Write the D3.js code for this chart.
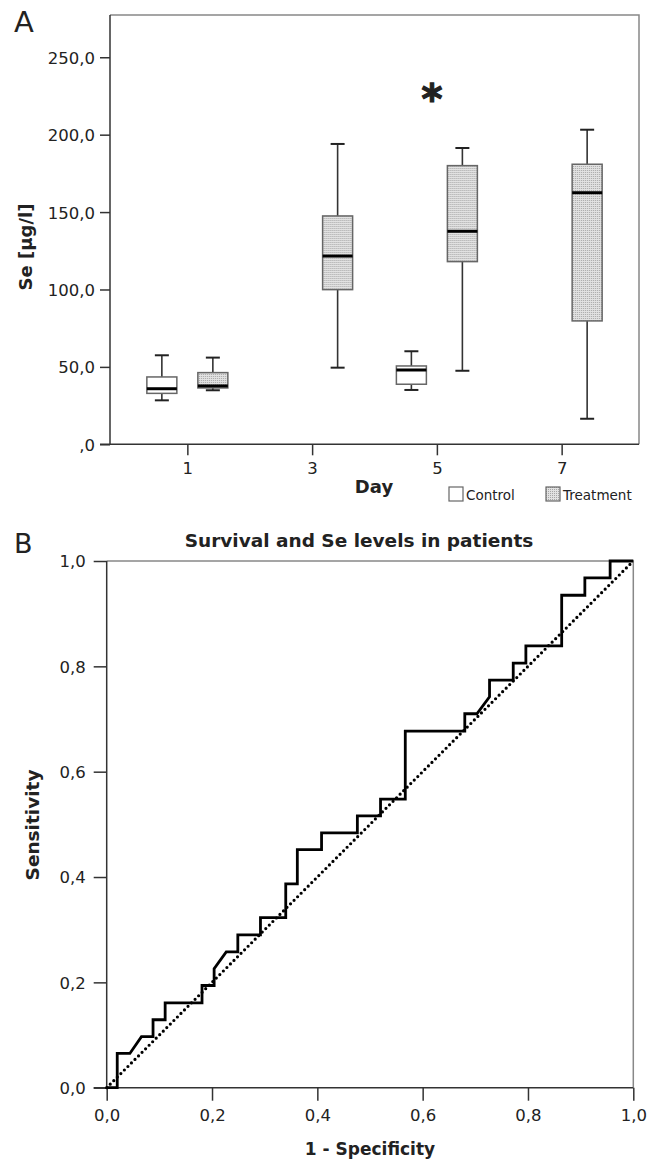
<!DOCTYPE html>
<html>
<head>
<meta charset="utf-8">
<script src="https://cdn.jsdelivr.net/npm/d3@7"></script>
<style>
  body { margin: 0; background: #fff; }
  svg text { font-family: "DejaVu Sans", sans-serif; fill: #222; }
</style>
</head>
<body>
<div id="chart"></div>
<script>
// Panel A data: box plot stats [min, q1, median, q3, max] per day
const days = ['1', '3', '5', '7'];
const groups = ['Control', 'Treatment'];
const controlStats = [
    [28.4, 32.9, 35.9, 43.5, 57.5],
    null,
    [35.1, 38.8, 48.0, 50.6, 60.1],
    null
];
const treatmentStats = [
    [34.9, 36.4, 37.7, 46.3, 56.0],
    [49.5, 99.9, 121.6, 147.5, 194.0],
    [47.5, 118.0, 137.6, 180.0, 191.4],
    [16.5, 79.7, 162.5, 180.9, 203.2]
];
const seTicks = [0, 50, 100, 150, 200, 250];

// Panel B data: ROC curve points
const rocFpr = [0, 0.020, 0.020, 0.044, 0.066, 0.088, 0.088, 0.111, 0.111, 0.181, 0.181, 0.204, 0.204, 0.227, 0.249,
    0.249, 0.292, 0.292, 0.340, 0.340, 0.362, 0.362, 0.408, 0.408, 0.476, 0.476, 0.520, 0.520, 0.567, 0.567,
    0.680, 0.680, 0.703, 0.727, 0.727, 0.772, 0.772, 0.796, 0.796, 0.864, 0.864, 0.908, 0.908, 0.956, 0.956, 1.0];
const rocTpr = [0, 0, 0.065, 0.065, 0.097, 0.097, 0.129, 0.129, 0.161, 0.161, 0.194, 0.194, 0.226, 0.258, 0.258,
    0.290, 0.290, 0.323, 0.323, 0.387, 0.387, 0.452, 0.452, 0.484, 0.484, 0.516, 0.516, 0.548, 0.548, 0.677,
    0.677, 0.710, 0.710, 0.742, 0.774, 0.774, 0.806, 0.806, 0.839, 0.839, 0.935, 0.935, 0.968, 0.968, 1.0, 1.0];
const rocTicks = [0, 0.2, 0.4, 0.6, 0.8, 1.0];

const W = 654, H = 1162;
const commaFmt = d => d.toFixed(1).replace('.', ',');

const svg = d3.select('#chart').append('svg')
    .attr('width', W)
    .attr('height', H);

svg.append('rect').attr('width', W).attr('height', H).attr('fill', '#fff');

// stipple fill for treatment boxes
const pat = svg.append('defs').append('pattern')
    .attr('id', 'stipple')
    .attr('patternUnits', 'userSpaceOnUse')
    .attr('width', 2).attr('height', 2);
pat.append('rect').attr('width', 2).attr('height', 2).attr('fill', '#e2e2e2');
pat.append('rect').attr('width', 1).attr('height', 1).attr('fill', '#a6a6a6');

// ---------- Panel A ----------
const A = { left: 110, right: 639, top: 15, bottom: 444.3 };

const x = d3.scalePoint()
    .domain(days)
    .range([A.left, A.right])
    .padding(0.62);

const xg = d3.scaleBand()
    .domain(groups)
    .range([-51, 51]);

const y = d3.scaleLinear()
    .domain([0, 277.3])
    .range([A.bottom, A.top]);

const boxW = 30, capW = 14;

const gA = svg.append('g');

// frame top + right
gA.append('path')
    .attr('d', `M${A.left},${A.top}H${A.right}V${A.bottom}`)
    .attr('fill', 'none')
    .attr('stroke', '#888')
    .attr('stroke-width', 1.5);

const yAxisA = gA.append('g')
    .attr('transform', `translate(${A.left},0)`)
    .call(d3.axisLeft(y).tickValues(seTicks).tickSize(10).tickSizeOuter(0)
        .tickFormat(d => d === 0 ? ',0' : commaFmt(d)));

const xAxisA = gA.append('g')
    .attr('transform', `translate(0,${A.bottom})`)
    .call(d3.axisBottom(x).tickSize(11).tickSizeOuter(0));

[yAxisA, xAxisA].forEach(ax => {
    ax.selectAll('path, line').attr('stroke', '#333').attr('stroke-width', 1.5);
    ax.selectAll('text').style('font-size', '16.5px').attr('fill', '#222');
});
yAxisA.select('.domain').attr('d', `M0,${A.top}V${A.bottom}`);
xAxisA.select('.domain').attr('d', `M${A.left - 10},0H${A.right}`);
yAxisA.selectAll('text').attr('x', -15).attr('dy', '0.36em');
xAxisA.selectAll('text').attr('y', 18);

// boxes
const boxData = [];
days.forEach((d, i) => {
    if (controlStats[i]) boxData.push({ day: d, group: 'Control', s: controlStats[i] });
    if (treatmentStats[i]) boxData.push({ day: d, group: 'Treatment', s: treatmentStats[i] });
});

const boxes = gA.selectAll('.box')
    .data(boxData)
    .enter()
    .append('g')
    .attr('class', 'box')
    .attr('transform', d => `translate(${x(d.day) + xg(d.group) + xg.bandwidth() / 2},0)`);

// whiskers
boxes.append('line')
    .attr('x1', 0).attr('x2', 0)
    .attr('y1', d => y(d.s[0])).attr('y2', d => y(d.s[1]))
    .attr('stroke', '#333').attr('stroke-width', 1.6);
boxes.append('line')
    .attr('x1', 0).attr('x2', 0)
    .attr('y1', d => y(d.s[3])).attr('y2', d => y(d.s[4]))
    .attr('stroke', '#333').attr('stroke-width', 1.6);
boxes.selectAll('.cap')
    .data(d => [d.s[0], d.s[4]])
    .enter()
    .append('line')
    .attr('x1', -capW / 2).attr('x2', capW / 2)
    .attr('y1', v => y(v)).attr('y2', v => y(v))
    .attr('stroke', '#222').attr('stroke-width', 2);

boxes.append('rect')
    .attr('x', -boxW / 2)
    .attr('width', boxW)
    .attr('y', d => y(d.s[3]))
    .attr('height', d => y(d.s[1]) - y(d.s[3]))
    .attr('fill', d => d.group === 'Treatment' ? 'url(#stipple)' : '#fff')
    .attr('stroke', '#666')
    .attr('stroke-width', 1.5);

boxes.append('line')
    .attr('x1', -boxW / 2).attr('x2', boxW / 2)
    .attr('y1', d => y(d.s[2])).attr('y2', d => y(d.s[2]))
    .attr('stroke', '#000').attr('stroke-width', 3);

// significance star over day 5
gA.append('text')
    .attr('x', x('5') - 5)
    .attr('y', 113)
    .attr('text-anchor', 'middle')
    .style('font-size', '40px')
    .style('font-weight', 'bold')
    .attr('stroke', '#222')
    .attr('stroke-width', 1.2)
    .text('*');

// axis titles
gA.append('text')
    .attr('transform', `translate(32,${247}) rotate(-90)`)
    .attr('text-anchor', 'middle')
    .style('font-size', '18px')
    .style('font-weight', 'bold')
    .text('Se [µg/l]');

gA.append('text')
    .attr('x', 374).attr('y', 493)
    .attr('text-anchor', 'middle')
    .style('font-size', '18px')
    .style('font-weight', 'bold')
    .text('Day');

// legend
const legend = gA.selectAll('.legend')
    .data(groups)
    .enter()
    .append('g')
    .attr('class', 'legend')
    .attr('transform', (d, i) => `translate(${[449, 546][i]},487)`);
legend.append('rect')
    .attr('width', 14).attr('height', 14)
    .attr('fill', d => d === 'Treatment' ? 'url(#stipple)' : '#fff')
    .attr('stroke', '#666').attr('stroke-width', 1.2);
legend.append('text')
    .attr('x', 17).attr('y', 13)
    .style('font-size', '13.5px')
    .text(d => d);

// panel letter
svg.append('text')
    .attr('x', 14).attr('y', 32)
    .style('font-size', '29px')
    .text('A');

// ---------- Panel B ----------
const B = { left: 106.7, right: 633.3, top: 561, bottom: 1087.7 };

const xr = d3.scaleLinear().domain([0, 1]).range([B.left, B.right]);
const yr = d3.scaleLinear().domain([0, 1]).range([B.bottom, B.top]);

const gB = svg.append('g');

gB.append('path')
    .attr('d', `M${B.left},${B.top}H${B.right}V${B.bottom}`)
    .attr('fill', 'none')
    .attr('stroke', '#888')
    .attr('stroke-width', 1.5);

const yAxisB = gB.append('g')
    .attr('transform', `translate(${B.left},0)`)
    .call(d3.axisLeft(yr).tickValues(rocTicks).tickSize(13).tickSizeOuter(0).tickFormat(commaFmt));
const xAxisB = gB.append('g')
    .attr('transform', `translate(0,${B.bottom})`)
    .call(d3.axisBottom(xr).tickValues(rocTicks).tickSize(13).tickSizeOuter(0).tickFormat(commaFmt));

[yAxisB, xAxisB].forEach(ax => {
    ax.selectAll('path, line').attr('stroke', '#333').attr('stroke-width', 1.5);
    ax.selectAll('text').style('font-size', '16.5px').attr('fill', '#222');
});
yAxisB.select('.domain').attr('d', `M0,${B.top}V${B.bottom}`);
xAxisB.select('.domain').attr('d', `M${B.left - 13},0H${B.right}`);
yAxisB.selectAll('text').attr('x', -21).attr('dy', '0.36em');
xAxisB.selectAll('text').attr('y', 22);

// reference diagonal
gB.append('line')
    .attr('x1', xr(0)).attr('y1', yr(0))
    .attr('x2', xr(1)).attr('y2', yr(1))
    .attr('stroke', '#000')
    .attr('stroke-width', 3.2)
    .attr('stroke-linecap', 'round')
    .attr('stroke-dasharray', '0 5');

// ROC curve
const rocPts = rocFpr.map((f, i) => [f, rocTpr[i]]);
gB.append('path')
    .datum(rocPts)
    .attr('d', d3.line().x(d => xr(d[0])).y(d => yr(d[1])))
    .attr('fill', 'none')
    .attr('stroke', '#000')
    .attr('stroke-width', 2.8)
    .attr('stroke-linejoin', 'miter');

gB.append('text')
    .attr('x', 359).attr('y', 547)
    .attr('text-anchor', 'middle')
    .style('font-size', '18.5px')
    .style('font-weight', 'bold')
    .text('Survival and Se levels in patients');

gB.append('text')
    .attr('x', 370).attr('y', 1155)
    .attr('text-anchor', 'middle')
    .style('font-size', '17px')
    .style('font-weight', 'bold')
    .text('1 - Specificity');

gB.append('text')
    .attr('transform', `translate(39,825) rotate(-90)`)
    .attr('text-anchor', 'middle')
    .style('font-size', '18.5px')
    .style('font-weight', 'bold')
    .text('Sensitivity');

svg.append('text')
    .attr('x', 14).attr('y', 553)
    .style('font-size', '27px')
    .text('B');
</script>
</body>
</html>
